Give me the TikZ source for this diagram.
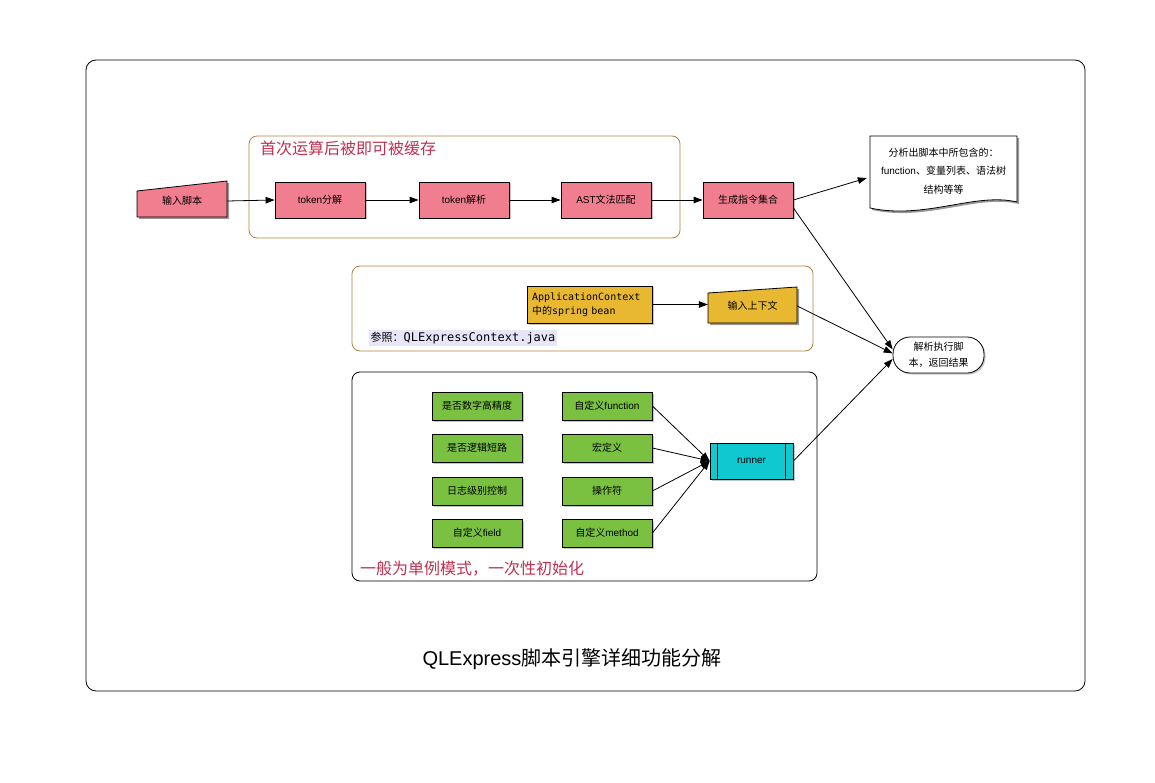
\documentclass[tikz,border=0pt]{standalone}
\usepackage{fontspec}
\setmainfont{Liberation Sans}
\newfontfamily\cjkf{Noto Sans CJK SC}
\newfontfamily\monof{DejaVu Sans Mono}
\newcommand\zh[1]{{\cjkf #1}}
\usetikzlibrary{arrows.meta,shadows,calc}
\definecolor{pinkc}{RGB}{240,126,142}
\definecolor{goldc}{RGB}{232,184,48}
\definecolor{greenc}{RGB}{122,193,66}
\definecolor{cyanc}{RGB}{16,200,208}
\definecolor{brownc}{RGB}{176,132,64}
\definecolor{redt}{RGB}{190,50,82}
\definecolor{lav}{RGB}{230,230,248}
\tikzset{
  shad/.style={drop shadow={shadow xshift=1.5pt,shadow yshift=-1.5pt,opacity=0.45}},
  basebox/.style={draw=black, line width=0.8pt, inner sep=0pt, font=\fontsize{10}{12}\selectfont, shad},
  pinkbox/.style={basebox, fill=pinkc, minimum width=90pt, minimum height=36pt},
  greenbox/.style={basebox, fill=greenc, minimum width=90pt, minimum height=28pt},
  group/.style={draw=brownc, line width=0.8pt, rounded corners=8pt},
  grouptitle/.style={anchor=west, text=redt, font=\cjkf\fontsize{16}{18}\selectfont, inner sep=0pt},
  hidden/.style={inner sep=0pt, font=\fontsize{10}{12}\selectfont},
  arr/.style={-{Triangle[length=9pt,width=6.5pt]}, line width=0.8pt},
}
\begin{document}
\begin{tikzpicture}[x=1pt,y=-1pt]
\useasboundingbox (0,0) rectangle (1155,783);
\fill[white] (0,0) rectangle (1155,783);
% outer frame
\draw[line width=0.8pt, rounded corners=10pt] (86,60) rectangle (1085,691);

% group 1
\draw[group] (249,136) rectangle (680,238);
\node[grouptitle] (g1t) at (260,148) {首次运算后被即可被缓存};

% input script (manual input)
\fill[black,opacity=0.4] (139,193) -- (229,183) -- (229,219) -- (139,219) -- cycle;
\draw[fill=pinkc, line width=0.8pt] (137,191) -- (227,181) -- (227,217) -- (137,217) -- cycle;
\node[hidden, minimum width=90pt, minimum height=36pt] (inp) at (182,201) {\zh{输入脚本}};

\node[pinkbox] (t1) at (320,200) {token\zh{分解}};
\node[pinkbox] (t2) at (464,200) {token\zh{解析}};
\node[pinkbox] (ast) at (606,200) {AST\zh{文法匹配}};
\node[pinkbox] (gen) at (748,200) {\zh{生成指令集合}};

\draw[arr] (inp.east) -- (t1.west);
\draw[arr] (t1.east) -- (t2.west);
\draw[arr] (t2.east) -- (ast.west);
\draw[arr] (ast.east) -- (gen.west);

% note (document shape)
\fill[black,opacity=0.4] (872,138) -- (1019,138) -- (1019,204) .. controls (977,194) and (927,222) .. (872,210) -- cycle;
\draw[fill=white, line width=0.8pt] (870,136) -- (1017,136) -- (1017,202) .. controls (975,192) and (925,220) .. (870,208) -- cycle;
\node[hidden, minimum width=147pt, minimum height=70pt, align=center, font=\fontsize{10}{18.5}\selectfont] (note) at (943.5,171)
  {\zh{分析出脚本中所包含的：}\\function\zh{、变量列表、语法树}\\\zh{结构等等}};
\draw[arr] (gen.east) -- ($(note.west)+(-3,7)$);

% group 2
\draw[group] (352,266) rectangle (813,351);
\node[basebox, fill=goldc, minimum width=125pt, minimum height=37pt, text width=115pt, inner xsep=5pt, align=left,
      font=\monof\fontsize{10}{14.5}\selectfont] (app) at (589.5,304.5) {ApplicationContext\\{\cjkf 中的}spring bean};
\fill[black,opacity=0.4] (710,295) -- (799,289) -- (799,325) -- (710,325) -- cycle;
\draw[fill=goldc, line width=0.8pt] (708,293) -- (797,287) -- (797,323) -- (708,323) -- cycle;
\node[hidden, minimum width=89pt, minimum height=36pt] (ctx) at (752.5,306) {\zh{输入上下文}};
\draw[arr] (app.east) -- (ctx.west |- app.east);
\node[anchor=west, fill=lav, inner xsep=1.5pt, inner ysep=2pt] (ref) at (369,338)
  {{\cjkf\fontsize{11}{13}\selectfont 参照：}{\monof\fontsize{12}{14}\selectfont QLExpressContext.java}};

% group 3
\draw[line width=0.8pt, rounded corners=8pt] (352,372) rectangle (817,581);
\node[greenbox] (a1) at (477,406) {\zh{是否数字高精度}};
\node[greenbox] (a2) at (477,448) {\zh{是否逻辑短路}};
\node[greenbox] (a3) at (477,491) {\zh{日志级别控制}};
\node[greenbox] (a4) at (477,533) {\zh{自定义}field};
\node[greenbox] (b1) at (607,406) {\zh{自定义}function};
\node[greenbox] (b2) at (607,448) {\zh{宏定义}};
\node[greenbox] (b3) at (607,491) {\zh{操作符}};
\node[greenbox] (b4) at (607,533) {\zh{自定义}method};
\node[basebox, fill=cyanc, minimum width=83pt, minimum height=36pt] (run) at (751.5,461) {runner};
\draw[line width=0.8pt] ($(run.north west)+(8,0)$) -- ($(run.south west)+(8,0)$);
\draw[line width=0.8pt] ($(run.north east)+(-8,0)$) -- ($(run.south east)+(-8,0)$);
\foreach \b in {b1,b2,b3,b4} \draw[arr] (\b.east) -- (run.west);
\node[grouptitle] (g3t) at (360,569) {一般为单例模式，一次性初始化};

% result
\node[basebox, fill=white, minimum width=91pt, minimum height=36pt, rounded corners=17pt, align=center,
      font=\cjkf\fontsize{10}{16}\selectfont] (res) at (938.5,355) {解析执行脚\\本，返回结果};
\draw[arr] (gen.-10) -- (res.173);
\draw[arr] (ctx.east) -- (res.178);
\draw[arr] (run.east) -- (res.185);

% title
\node[inner sep=0pt, font=\fontsize{20}{24}\selectfont] (title) at (572,659) {QLExpress\zh{脚本引擎详细功能分解}};
\end{tikzpicture}
\end{document}
